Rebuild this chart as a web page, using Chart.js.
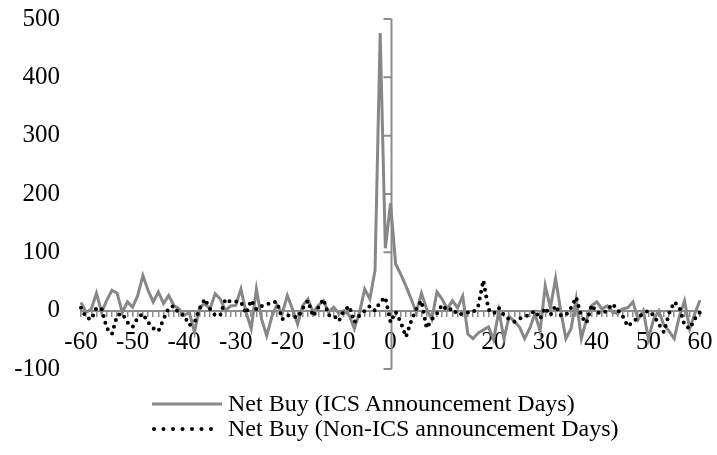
<!DOCTYPE html>
<html lang="en">
<head>
<meta charset="utf-8">
<title>Net Buy around ICS announcement days</title>
<script src="https://cdn.jsdelivr.net/npm/chart.js@4.4.1/dist/chart.umd.min.js"></script>
<style>
  body { margin: 0; background: #fff; }
  #wrap { position: relative; width: 717px; height: 455px; }
  #legend { position: absolute; left: 152px; top: 391px; font-family: "Liberation Serif", "Times New Roman", serif; font-size: 24px; color: #000; }
  .row { height: 25px; line-height: 25px; white-space: nowrap; display: flex; align-items: center; }
  .row svg { margin-right: 6px; }
</style>
</head>
<body>
<div id="wrap">
  <canvas id="mycanvas" width="717" height="455"></canvas>
  <div id="legend">
    <div class="row"><svg width="70" height="6"><line x1="0" y1="3" x2="70" y2="3" stroke="#888" stroke-width="3"/></svg>Net Buy (ICS Announcement Days)</div>
    <div class="row"><svg width="70" height="6"><line x1="2" y1="3" x2="62" y2="3" stroke="#000" stroke-width="4" stroke-linecap="round" stroke-dasharray="0 9.5"/></svg>Net Buy (Non-ICS announcement Days)</div>
  </div>
</div>
<script>
// days relative to announcement, -60 .. 60
const days = Array.from({length: 121}, (_, i) => i - 60);

// Net Buy (ICS Announcement Days)
const icsBuy = [
  14, -3, 3, 30, -3, 18, 35, 30, -3, 15,        // -60..-51
  6, 26, 60, 35, 15, 32, 12, 26, 9, 3,          // -50..-41
  -8, -3, -37, 6, 12, 3, 29, 20, 0, 8,          // -40..-31
  9, 37, -3, -31, 37, -14, -43, -10, 10, -5,    // -30..-21
  26, 3, -23, 9, 20, -3, 9, 17, -3, 6,          // -20..-11
  -5, 0, -8, -31, -3, 37, 20, 69, 476, 107,     // -10..-1
  184, 80, 62, 42, 20, -3, 30, 3, -15, 32,      // 0..9
  20, 3, 17, 5, 25, -40, -48, -38, -33, -28,    // 10..19
  -50, 0, -48, -10, -18, -28, -48, -30, -5, -35, // 20..29
  43, 5, 55, 0, -48, -31, 20, -48, -15, 9,      // 30..39
  15, 3, 8, -2, -5, 3, 5, 15, -15, 0,           // 40..49
  -48, -15, 0, -25, -35, -48, -10, 17, -31, -5, // 50..59
  18                                            // 60
];

// Net Buy (Non-ICS announcement Days)
const nonIcsBuy = [
  5, -12, -15, 5, 3, -30, -40, -8, -5, -20,     // -60..-51
  -28, -12, -5, -20, -30, -35, -15, 5, 8, -5,   // -50..-41
  -8, -25, -20, 3, 20, 3, -8, -8, 20, 15,       // -40..-31
  16, 15, -5, 18, 2, 8, 10, 15, 15, -15,        // -30..-21
  -8, -10, -12, 4, 17, -10, 5, 20, -8, -8,      // -20..-11
  -18, 0, 8, -20, -8, 0, 8, 0, 15, 23,          // -10..-1
  -20, -2, -20, -45, -18, 3, 17, -30, -15, -5,  // 0..9
  10, 0, 4, -7, -5, -3, -3, 8, 52, 2,           // 10..19
  -5, 5, -8, -15, -19, -14, -10, -7, 0, -14,    // 20..29
  5, -8, 9, -8, -8, 5, 23, -10, -21, 10,        // 30..39
  -3, -5, 0, 12, 2, -9, -27, -19, -12, -5,      // 40..49
  0, -8, -23, -37, -5, 15, 6, -25, -31, -14,    // 50..59
  -3                                            // 60
];

const xTickLabels = [-60, -50, -40, -30, -20, -10, 0, 10, 20, 30, 40, 50, 60];
const yMin = -100, yMax = 500, yStep = 100;

const axisGray = "#8c8c8c";
const tickFont = { family: "'Liberation Serif', 'Times New Roman', serif", size: 25 };

// drop the label overhang padding so the layout padding alone sets the plot box
const noOverhang = (scale) => {
  scale.paddingTop = 0; scale.paddingBottom = 0;
  scale.paddingLeft = 0; scale.paddingRight = 0;
};

// vertical axis drawn at day 0 with tick marks to the left
const centerAxis = {
  id: 'centerAxis',
  beforeDatasetsDraw(chart) {
    const xs = chart.scales.x, ys = chart.scales.y;
    const x = Math.round(xs.getPixelForValue(days.indexOf(0))) + 0.5;
    const ctx = chart.ctx;
    ctx.save();
    ctx.strokeStyle = axisGray;
    ctx.lineWidth = 2;
    ctx.beginPath();
    ctx.moveTo(x, ys.getPixelForValue(yMax));
    ctx.lineTo(x, ys.getPixelForValue(yMin));
    ys.ticks.forEach(t => {
      const y = ys.getPixelForValue(t.value);
      ctx.moveTo(x - 8, y);
      ctx.lineTo(x, y);
    });
    ctx.stroke();
    ctx.restore();
  }
};

const ctx_live = document.getElementById("mycanvas");
const myChart = new Chart(ctx_live, {
  type: 'line',
  data: {
    labels: days,
    datasets: [{
      label: 'Net Buy (Non-ICS announcement Days)',
      data: nonIcsBuy,
      borderColor: '#000',
      borderWidth: 4,
      borderDash: [0, 7],
      borderCapStyle: 'round',
      pointRadius: 0,
      tension: 0,
      order: 0
    }, {
      label: 'Net Buy (ICS Announcement Days)',
      data: icsBuy,
      borderColor: '#878787',
      borderWidth: 3,
      pointRadius: 0,
      tension: 0,
      order: 1
    }]
  },
  options: {
    responsive: false,
    animation: false,
    devicePixelRatio: 1,
    layout: { padding: { left: 14, right: 17, top: 19, bottom: 86 } },
    scales: {
      x: {
        type: 'category',
        offset: false,
        position: { y: 0 },
        border: { color: axisGray, width: 2 },
        grid: { drawOnChartArea: false, drawTicks: true, tickLength: 5, color: axisGray, lineWidth: 1.5 },
        ticks: {
          autoSkip: false,
          maxRotation: 0,
          padding: 12,
          color: '#000',
          font: tickFont,
          callback: (v, i) => xTickLabels.includes(days[i]) ? String(days[i]) : ''
        },
        afterFit: noOverhang
      },
      y: {
        min: yMin,
        max: yMax,
        border: { display: false },
        grid: { display: false, drawTicks: false },
        ticks: { stepSize: yStep, padding: 21, color: '#000', font: tickFont },
        afterFit: (scale) => { noOverhang(scale); scale.width = 67; }
      }
    },
    plugins: {
      legend: { display: false },
      tooltip: { enabled: false }
    }
  },
  plugins: [centerAxis]
});
</script>
</body>
</html>
